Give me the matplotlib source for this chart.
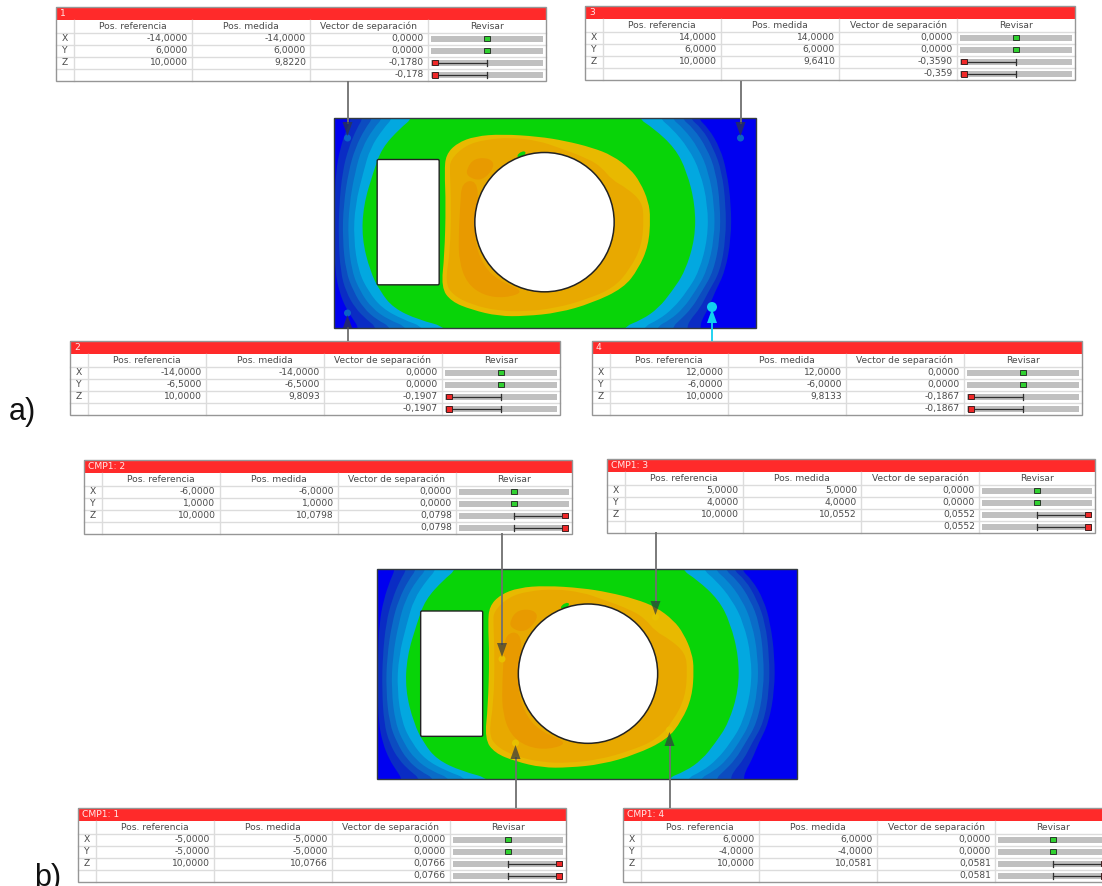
import matplotlib
matplotlib.use('Agg')
import matplotlib.pyplot as plt
from matplotlib.patches import Circle, FancyBboxPatch, PathPatch, Polygon, Rectangle
from matplotlib.path import Path
from matplotlib.transforms import Affine2D

# table contents
COLUMNS = ['Pos. referencia', 'Pos. medida', 'Vector de separación', 'Revisar']
AXES_NAMES = ['X', 'Y', 'Z']

titles_a = ['1', '2', '3', '4']
ref_a = [['-14,0000', '6,0000', '10,0000'], ['-14,0000', '-6,5000', '10,0000'],
         ['14,0000', '6,0000', '10,0000'], ['12,0000', '-6,0000', '10,0000']]
meas_a = [['-14,0000', '6,0000', '9,8220'], ['-14,0000', '-6,5000', '9,8093'],
          ['14,0000', '6,0000', '9,6410'], ['12,0000', '-6,0000', '9,8133']]
dev_a = [['0,0000', '0,0000', '-0,1780', '-0,178'], ['0,0000', '0,0000', '-0,1907', '-0,1907'],
         ['0,0000', '0,0000', '-0,3590', '-0,359'], ['0,0000', '0,0000', '-0,1867', '-0,1867']]

titles_b = ['CMP1: 1', 'CMP1: 2', 'CMP1: 3', 'CMP1: 4']
ref_b = [['-5,0000', '-5,0000', '10,0000'], ['-6,0000', '1,0000', '10,0000'],
         ['5,0000', '4,0000', '10,0000'], ['6,0000', '-4,0000', '10,0000']]
meas_b = [['-5,0000', '-5,0000', '10,0766'], ['-6,0000', '1,0000', '10,0798'],
          ['5,0000', '4,0000', '10,0552'], ['6,0000', '-4,0000', '10,0581']]
dev_b = [['0,0000', '0,0000', '0,0766', '0,0766'], ['0,0000', '0,0000', '0,0798', '0,0798'],
         ['0,0000', '0,0000', '0,0552', '0,0552'], ['0,0000', '0,0000', '0,0581', '0,0581']]

# table corners (left, top) in pixels
corners_a = [(56, 7), (70, 341), (585, 6), (592, 341)]
corners_b = [(78, 808), (84, 460), (607, 459), (623, 808)]

# contour bands, plate-zoom pixels
band_y = [38, 70, 130, 200, 300, 400, 500, 560, 610, 645, 668]
left_edges = [
    [80, 65, 45, 32, 28, 27, 30, 42, 62, 85, 100],
    [115, 95, 70, 52, 42, 40, 46, 62, 90, 125, 155],
    [145, 120, 90, 70, 55, 52, 62, 85, 115, 155, 200],
    [175, 145, 110, 90, 72, 68, 80, 105, 140, 190, 250],
    [205, 175, 135, 115, 90, 85, 100, 130, 170, 235, 300],
    [265, 225, 170, 145, 115, 110, 135, 165, 205, 280, 370],
]
right_edges = [
    [1115, 1150, 1185, 1205, 1218, 1218, 1200, 1170, 1150, 1130, 1125],
    [1090, 1130, 1165, 1190, 1202, 1202, 1185, 1150, 1125, 1095, 1085],
    [1065, 1105, 1145, 1172, 1185, 1185, 1165, 1130, 1100, 1065, 1040],
    [1035, 1075, 1120, 1150, 1168, 1168, 1145, 1110, 1075, 1035, 990],
    [1000, 1040, 1090, 1125, 1148, 1148, 1122, 1085, 1045, 1000, 950],
    [935, 985, 1050, 1085, 1110, 1110, 1080, 1040, 1000, 950, 890],
]
band_colors = ['#0a2cc4', '#0c4cc0', '#0a6cc8', '#0588d2', '#02a8e0', '#08d408']

yellow_outline = [(362, 150), (395, 115), (450, 94), (530, 88), (640, 95), (720, 108), (800, 128),
                  (862, 152), (915, 192), (945, 232), (970, 290), (976, 340), (970, 422), (940, 492),
                  (895, 550), (800, 595), (700, 624), (600, 634), (520, 634), (440, 615), (378, 590),
                  (348, 548), (358, 450), (362, 300), (358, 200)]
orange_outline = [(375, 165), (420, 122), (480, 104), (560, 98), (640, 108), (700, 128), (790, 162),
                  (830, 188), (860, 225), (905, 250), (950, 290), (956, 340), (950, 422), (915, 492),
                  (865, 550), (780, 585), (690, 610), (600, 620), (520, 618), (440, 600), (382, 570),
                  (360, 532), (375, 440), (378, 300), (374, 200)]
dark_outline_1 = [(425, 190), (448, 160), (495, 160), (510, 185), (470, 230), (425, 215)]
dark_outline_2 = [(410, 232), (455, 226), (460, 300), (445, 400), (475, 485), (525, 530), (600, 560),
                  (540, 580), (475, 572), (425, 535), (402, 470), (400, 400), (405, 300)]
green_blob = [(572, 155), (590, 138), (605, 142), (590, 160)]

# point markers: x, y of the probe dot in px, where its leader ends, dot colour
probes_a = [(347.5, 138, 81, '#0a62c8'), (347.5, 313, 341, '#0a62c8'),
            (740.5, 138, 81, '#0a62c8'), (712, 307, 341, '#10d0f0')]
probes_b = [(515.5, 743, 808, '#e8c000'), (502, 659, 533, '#e8c000'),
            (655.5, 617, 532, '#e8c000'), (669.5, 730, 808, '#e8c000')]

GRID = '#dcdcdc'
EDGE = '#969696'
INK = '#4a4a4a'
FONT = 6.6

fig = plt.figure(figsize=(11.02, 8.86), dpi=100)
ax = fig.add_axes([0, 0, 1, 1])
ax.set_xlim(0, 1102)
ax.set_ylim(886, 0)
ax.axis('off')


def smooth_closed(points):
    # quadratic bezier through the midpoints, keeps outlines from looking faceted
    n = len(points)
    mids = [((points[i][0] + points[(i + 1) % n][0]) / 2, (points[i][1] + points[(i + 1) % n][1]) / 2)
            for i in range(n)]
    verts = [mids[-1]]
    codes = [Path.MOVETO]
    for i in range(n):
        verts += [points[i], mids[i]]
        codes += [Path.CURVE3, Path.CURVE3]
    return Path(verts, codes)


def band_outline(left, right):
    pts = [(left[0], -40)] + list(zip(left, band_y)) + [(left[-1], 740)]
    pts += [(right[-1], 740)] + list(zip(right, band_y))[::-1] + [(right[0], -40)]
    return pts


def draw_plate(x0, y0, w, h):
    tf = Affine2D().translate(-25, -38).scale(1 / 3).translate(x0, y0) + ax.transData
    ax.add_patch(Rectangle((x0, y0), w, h, fc='#0000f0', ec='none', zorder=1))
    clip = Rectangle((x0, y0), w, h, transform=ax.transData)

    def fill(outline, color, z):
        p = PathPatch(smooth_closed(outline), fc=color, ec='none', transform=tf, zorder=z)
        ax.add_patch(p)
        p.set_clip_path(clip)

    for left, right, color in zip(left_edges, right_edges, band_colors):
        fill(band_outline(left, right), color, 2)
    fill(yellow_outline, '#e8b900', 3)
    fill(orange_outline, '#e8a900', 4)
    fill(dark_outline_1, '#e89a00', 5)
    fill(dark_outline_2, '#e89a00', 5)
    fill(green_blob, '#08d408', 5)

    ax.add_patch(FancyBboxPatch((156, 164), 186, 376, boxstyle='round,pad=0,rounding_size=4',
                                fc='white', ec='#222222', lw=1.0, transform=tf, zorder=6))
    ax.add_patch(Circle((658, 352), 209, fc='white', ec='#222222', lw=1.1, transform=tf, zorder=6))
    ax.add_patch(Rectangle((x0, y0), w, h, fc='none', ec='#333a40', lw=1.0, zorder=7))


def draw_probe(x, y, table_y, color):
    cyan = color == '#10d0f0'
    sign = -1 if table_y < y else 1
    line = color if cyan else '#707070'
    ax.plot([x, x], [table_y, y + sign * 14], color=line, lw=1.3, zorder=8, solid_capstyle='butt')
    ax.add_patch(Circle((x, y), 5 if cyan else 3.5, fc=color, ec='none', zorder=8))
    tri = [(x - 5, y + sign * 16), (x + 5, y + sign * 16), (x, y + sign * 2)]
    ax.add_patch(Polygon(tri, fc=color if cyan else '#303840', ec='none',
                         alpha=1 if cyan else 0.7, zorder=9))


def to_float(s):
    return float(s.replace(',', '.'))


def draw_gauge(x0, x1, y, value):
    ax.add_patch(Rectangle((x0, y - 3), x1 - x0, 6, fc='#c0c0c0', ec='none', zorder=2))
    mid = (x0 + x1) / 2
    v = to_float(value)
    if v == 0:
        ax.add_patch(Rectangle((mid - 2.8, y - 2.8), 5.6, 5.6, fc='#30d030', ec='#2a3a2a', lw=0.7, zorder=4))
        return
    end = x0 + 4 if v < 0 else x1 - 4
    ax.plot([mid, end], [y, y], color='#303030', lw=0.9, zorder=3)
    ax.plot([mid, mid], [y - 3, y + 3], color='#303030', lw=0.9, zorder=3)
    ax.add_patch(Rectangle((end - 2.8, y - 2.8), 5.6, 5.6, fc='#f02828', ec='#402020', lw=0.7, zorder=4))


def draw_table(left, top, width, title, ref, meas, dev):
    height = 74
    col = [left, left + 17.5, left + 135.5, left + 254, left + 372, left + width]
    rows = [top + 13, top + 25.6, top + 37.6, top + 49.6, top + 61.6, top + height]
    ax.add_patch(Rectangle((left, top), width, height, fc='white', ec='none', zorder=1))
    ax.add_patch(Rectangle((left, top), width, 13, fc='#ff2a2a', ec='none', zorder=2))
    ax.text(left + 4, top + 6.8, title, color='#ffe8e8', fontsize=FONT, va='center', ha='left', zorder=3)
    for c in col[1:5]:
        ax.plot([c, c], [rows[0], rows[-1]], color=GRID, lw=1, zorder=2)
    for r in rows[1:5]:
        ax.plot([left, left + width], [r, r], color=GRID, lw=1, zorder=2)
    for i, name in enumerate(COLUMNS):
        ax.text((col[i + 1] + col[i + 2]) / 2, (rows[0] + rows[1]) / 2, name, color=INK,
                fontsize=FONT, ha='center', va='center', zorder=3)
    for i in range(4):
        yc = (rows[i + 1] + rows[i + 2]) / 2
        if i < 3:
            ax.text(left + 9, yc, AXES_NAMES[i], color=INK, fontsize=FONT, ha='center', va='center', zorder=3)
            ax.text(col[2] - 4, yc, ref[i], color=INK, fontsize=FONT, ha='right', va='center', zorder=3)
            ax.text(col[3] - 4, yc, meas[i], color=INK, fontsize=FONT, ha='right', va='center', zorder=3)
        ax.text(col[4] - 4, yc, dev[i], color=INK, fontsize=FONT, ha='right', va='center', zorder=3)
        draw_gauge(col[4] + 3, col[5] - 3, yc, dev[i])
    ax.add_patch(Rectangle((left, top), width, height, fc='none', ec=EDGE, lw=1, zorder=5))


draw_plate(333.5, 117.5, 422, 210.5)
draw_plate(377, 569, 420, 209.5)

for x, y, table_y, color in probes_a + probes_b:
    draw_probe(x, y, table_y, color)

for i in range(4):
    draw_table(*corners_a[i], 490, titles_a[i], ref_a[i], meas_a[i], dev_a[i])
    draw_table(*corners_b[i], 488, titles_b[i], ref_b[i], meas_b[i], dev_b[i])

ax.text(9, 420, 'a)', fontsize=22, family='Liberation Sans', color='#111111', ha='left', va='baseline')
ax.text(34, 886, 'b)', fontsize=22, family='Liberation Sans', color='#111111', ha='left', va='baseline')

fig.savefig('out.png', dpi=100)
